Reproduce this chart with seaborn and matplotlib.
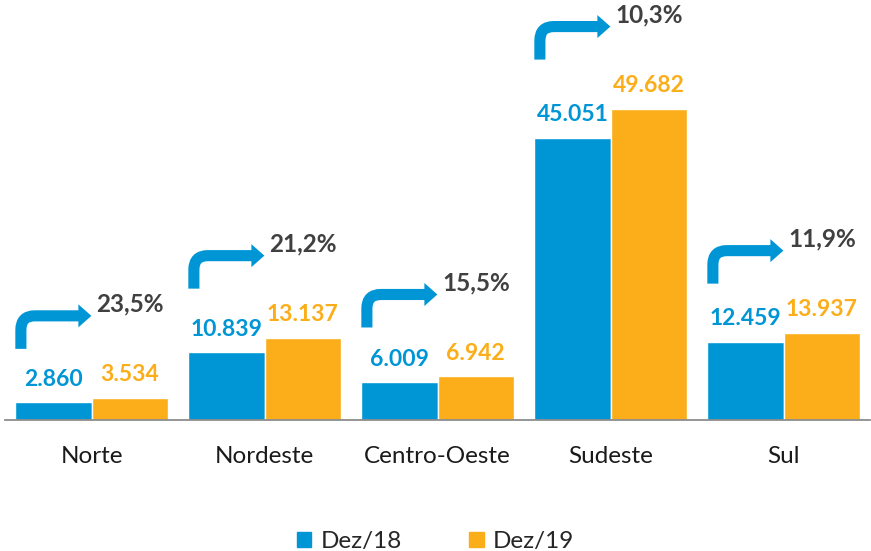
import matplotlib
matplotlib.use("Agg")
import matplotlib.pyplot as plt
import matplotlib.transforms as mtransforms
from matplotlib.path import Path
from matplotlib.patches import PathPatch, Polygon
import pandas as pd
import seaborn as sns

regions = ['Norte', 'Nordeste', 'Centro-Oeste', 'Sudeste', 'Sul']
dez18 = [2860, 10839, 6009, 45051, 12459]
dez19 = [3534, 13137, 6942, 49682, 13937]
growth = ['23,5%', '21,2%', '15,5%', '10,3%', '11,9%']
series = ['Dez/18', 'Dez/19']
colors = ['#0096D6', '#FBAE19']
FONT = ['Lato', 'DejaVu Sans']

df = pd.DataFrame({
    'regiao': regions * 2,
    'periodo': [series[0]] * len(regions) + [series[1]] * len(regions),
    'valor': dez18 + dez19,
})


def fmt(v):
    return '{:,}'.format(v).replace(',', '.')


sns.set_style('white')
plt.rcParams['font.family'] = FONT

fig = plt.figure(figsize=(8.71, 5.51), dpi=100)
ax = fig.add_axes([5 / 871, 131 / 551, 865 / 871, 420 / 551])

sns.barplot(data=df, x='regiao', y='valor', hue='periodo', palette=colors,
            width=0.88, saturation=1, ax=ax, legend=False)

ax.set_xlim(-0.5, len(regions) - 0.5)
ax.set_ylim(0, 67000)
ax.set_xlabel('')
ax.set_ylabel('')
ax.set_yticks([])
for side in ['top', 'right', 'left']:
    ax.spines[side].set_visible(False)
ax.spines['bottom'].set_color('#8c8c8c')
ax.spines['bottom'].set_linewidth(1.3)

# ticks on the category boundaries, labels in the middle
ax.set_xticks([i - 0.5 for i in range(len(regions) + 1)])
ax.set_xticklabels([])
ax.set_xticks(range(len(regions)), minor=True)
ax.set_xticklabels(regions, minor=True, fontsize=17.5, color='#1a1a1a')
ax.tick_params(axis='x', which='major', length=6, width=1.3, color='#8c8c8c', direction='out')
ax.tick_params(axis='x', which='minor', length=0, pad=19)

# value labels
for cont, col in zip(ax.containers, colors):
    for bar in cont:
        h = bar.get_height()
        ax.annotate(fmt(int(round(h))), (bar.get_x() + bar.get_width() / 2, h),
                    xytext=(0, 9), textcoords='offset points', ha='center', va='bottom',
                    fontsize=16.5, fontweight='bold', color=col)

# bent growth arrows
lift = 49
blue_bars = list(ax.containers[0])
orange_bars = list(ax.containers[1])
for b1, b2, txt in zip(blue_bars, orange_bars, growth):
    top = max(b1.get_height(), b2.get_height())
    anchor = ax.transData.transform((b1.get_x(), top))
    base = mtransforms.Affine2D().translate(anchor[0], anchor[1] + lift)
    stem_x = 5.5
    band_y = 33
    r = 14
    verts = [(stem_x, 0), (stem_x, band_y - r), (stem_x, band_y), (stem_x + r, band_y), (64, band_y)]
    codes = [Path.MOVETO, Path.LINETO, Path.CURVE3, Path.CURVE3, Path.LINETO]
    shaft = PathPatch(Path(verts, codes), fill=False, lw=8, edgecolor=colors[0],
                      capstyle='butt', joinstyle='miter', transform=base)
    ax.add_artist(shaft)
    head = Polygon([(63, band_y + 11.5), (76, band_y), (63, band_y - 11.5)], closed=True,
                   facecolor=colors[0], edgecolor='none', transform=base)
    ax.add_artist(head)
    ax.annotate(txt, (b1.get_x(), top), xytext=(81 * 0.72, (lift + band_y + 12) * 0.72),
                textcoords='offset points', ha='left', va='center', fontsize=17.5,
                fontweight='bold', color='#404040')

handles = [plt.Rectangle((0, 0), 1, 1, color=c) for c in colors]
fig.legend(handles, series, loc='lower center', bbox_to_anchor=(0.5, -0.042), ncol=2,
           frameon=False, fontsize=17.5, handlelength=0.6, handleheight=0.6,
           handletextpad=0.4, columnspacing=2.75)

fig.savefig('out.png', dpi=100)
